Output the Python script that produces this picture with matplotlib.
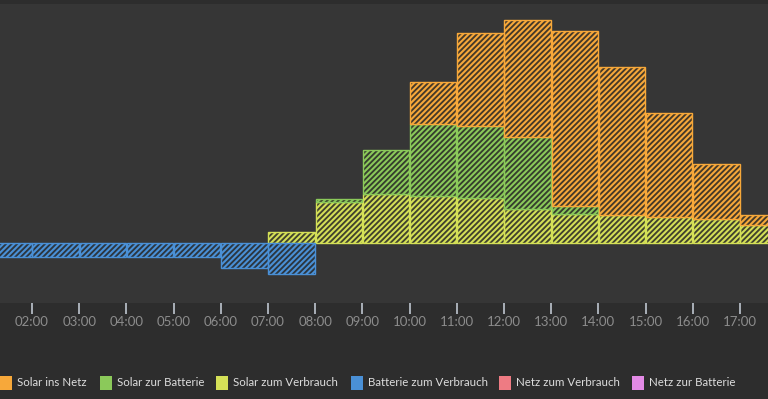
import matplotlib.pyplot as plt
from matplotlib.patches import Rectangle

# hour at which each bar starts, energy per hour in Wh
hours = [1, 2, 3, 4, 5, 6, 7, 8, 9, 10, 11, 12, 13, 14, 15, 16, 17]
solar_netz = [0, 0, 0, 0, 0, 0, 0, 0, 0, 420, 930, 1170, 1750, 1480, 1040, 550, 100]
solar_batterie = [0, 0, 0, 0, 0, 0, 0, 30, 440, 720, 720, 720, 80, 0, 0, 0, 0]
solar_verbrauch = [0, 0, 0, 0, 0, 0, 110, 410, 490, 470, 450, 340, 290, 280, 260, 240, 180]
batterie_verbrauch = [-140, -140, -140, -140, -140, -250, -310, 0, 0, 0, 0, 0, 0, 0, 0, 0, 0]
tick_hours = list(range(2, 18))
tick_labels = ["%02d:00" % h for h in tick_hours]

legend_names = ["Solar ins Netz", "Solar zur Batterie", "Solar zum Verbrauch",
                 "Batterie zum Verbrauch", "Netz zum Verbrauch", "Netz zur Batterie"]
legend_colors = ["#f7a83a", "#8bc95a", "#d4e057", "#4a90d6", "#ee7b83", "#e38ae6"]
legend_x = [0, 100, 216, 351, 499, 632]  # left edge of each legend square, px

plt.rcParams["hatch.linewidth"] = 1.35

fig = plt.figure(figsize=(7.68, 3.99), dpi=100, facecolor="#2d2d2d")
ax = fig.add_axes([0, 1 - 302.5 / 399, 1, (302.5 - 4) / 399])
ax.set_facecolor("#363636")


def hatched_bar(heights, bottoms, color):
    x = [h + 0.01 for h, v in zip(hours, heights) if v != 0]
    b = [bo for bo, v in zip(bottoms, heights) if v != 0]
    v = [v for v in heights if v != 0]
    ax.bar(x, v, bottom=b, width=0.98, align="edge", color=color, linewidth=0)
    ax.bar(x, v, bottom=b, width=0.98, align="edge", facecolor="none",
           edgecolor=(0.15, 0.15, 0.15, 0.85), linewidth=0, hatch="//////")
    ax.bar(x, v, bottom=b, width=0.98, align="edge", facecolor="none",
           edgecolor=color, linewidth=1.0)


zeros = [0] * len(hours)
hatched_bar(solar_verbrauch, zeros, legend_colors[2])
hatched_bar(solar_batterie, solar_verbrauch, legend_colors[1])
b3 = [a + b for a, b in zip(solar_verbrauch, solar_batterie)]
hatched_bar(solar_netz, b3, legend_colors[0])
hatched_bar(batterie_verbrauch, zeros, legend_colors[3])

ax.set_xlim(2 - 32 / 47.2, 17 + 28 / 47.2)
ax.set_ylim(-595, 2390)
ax.set_yticks([])
ax.set_xticks(tick_hours)
ax.set_xticklabels(tick_labels, family=["Lato", "DejaVu Sans"], fontsize=9.5, color="#8c8c8c")
ax.tick_params(axis="x", length=8, width=1.4, color="#aab0b8", pad=1.5)
for s in ax.spines.values():
    s.set_visible(False)

# legend row drawn in figure pixels
W, H = 768, 399
for name, c, x0 in zip(legend_names, legend_colors, legend_x):
    fig.patches.append(Rectangle((x0 / W, (H - 390) / H), 12 / W, 14 / H,
                                 transform=fig.transFigure, facecolor=c, edgecolor="none"))
    fig.text((x0 + 17) / W, (H - 383) / H, name, color="#dddddd", fontsize=8.3,
             family=["Lato", "DejaVu Sans"], va="center", ha="left")

fig.savefig("out.png", dpi=100, facecolor=fig.get_facecolor())
